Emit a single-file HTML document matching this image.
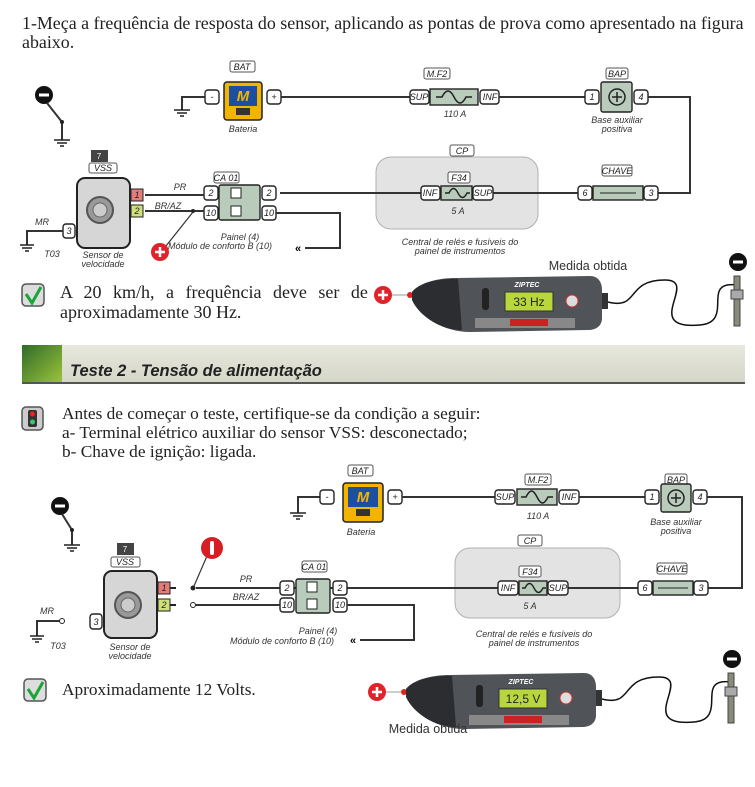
<!DOCTYPE html>
<html><head><meta charset="utf-8">
<style>
html,body{margin:0;padding:0;background:#fff;}
body{width:755px;height:787px;position:relative;overflow:hidden;font-family:"Liberation Serif",serif;color:#222;}
.t{position:absolute;font-size:16.5px;line-height:19px;white-space:nowrap;}
svg{position:absolute;left:0;top:0;}
</style></head><body>
<svg width="755" height="787" viewBox="0 0 755 787" font-family="Liberation Sans, sans-serif">
<defs>
<linearGradient id="gr" x1="0" y1="0" x2="1" y2="1"><stop offset="0" stop-color="#2f6b2a"/><stop offset="1" stop-color="#9cc43a"/></linearGradient>
<linearGradient id="hb" x1="0" y1="0" x2="0" y2="1"><stop offset="0" stop-color="#e8e8de"/><stop offset="1" stop-color="#d4d6c6"/></linearGradient>
</defs>
<style>
.w{stroke:#333;stroke-width:2;fill:none}
.p{fill:#fff;stroke:#222;stroke-width:1.4}
.b{fill:#b9ccbc;stroke:#222;stroke-width:1.4}
.l{font-size:9px;font-style:italic;text-anchor:middle;fill:#222}
.c{font-size:9px;font-style:italic;text-anchor:middle;fill:#333}
.lb{fill:#fff;stroke:#555;stroke-width:1}
</style>

<!-- ===================== DIAGRAM 1 ===================== -->
<circle cx="44" cy="95" r="9" fill="#111"/><rect x="39" y="93.5" width="10" height="3" fill="#fff"/>
<path class="w" d="M47 103 L62 122 L62 140" stroke-width="1.5"/><circle cx="62" cy="122" r="2" fill="#222"/>
<path d="M54 140h16M57 143h10M60 146h4" stroke="#222" stroke-width="1.5"/>

<rect class="lb" x="230" y="61" width="25" height="11" rx="2"/><text class="l" x="242" y="70">BAT</text>
<path class="w" d="M205 97 H182 V110"/><path d="M174 110h16M177 113h10M180 116h4" stroke="#222" stroke-width="1.5"/>
<rect class="p" x="205" y="90" width="14" height="14" rx="3"/><text class="l" x="212" y="100">-</text>
<rect x="224" y="82" width="38" height="38" rx="3" fill="#f3b400" stroke="#222" stroke-width="1.5"/>
<rect x="229" y="86" width="28" height="20" fill="#1d4fa0"/><text x="243" y="101" font-size="15" font-weight="bold" font-style="italic" fill="#f3b400" text-anchor="middle">M</text>
<rect x="236" y="108" width="14" height="7" fill="#333"/>
<rect class="p" x="267" y="90" width="14" height="14" rx="3"/><text class="l" x="274" y="100">+</text>
<text class="c" x="243" y="132">Bateria</text>
<path class="w" d="M281 97 H410"/>
<rect class="lb" x="424" y="68" width="26" height="11" rx="2"/><text class="l" x="437" y="77">M.F2</text>
<rect class="p" x="410" y="90" width="19" height="14" rx="3"/><text class="l" x="419" y="100">SUP</text>
<rect class="b" x="430" y="89" width="48" height="16"/><path d="M436 97 h6 c4 -8 8 -8 12 0 c4 8 8 8 12 0 h6" stroke="#222" stroke-width="1.5" fill="none"/>
<rect class="p" x="480" y="90" width="19" height="14" rx="3"/><text class="l" x="490" y="100">INF</text>
<text class="c" x="455" y="117">110 A</text>
<path class="w" d="M499 97 H585"/>
<rect class="lb" x="606" y="68" width="22" height="11" rx="2"/><text class="l" x="617" y="77">BAP</text>
<rect class="p" x="585" y="90" width="14" height="14" rx="3"/><text class="l" x="592" y="100">1</text>
<rect class="b" x="601" y="82" width="31" height="30" rx="2"/><circle cx="617" cy="97" r="8" fill="none" stroke="#222" stroke-width="1.5"/><path d="M612 97h10M617 92v10" stroke="#222" stroke-width="1.5"/>
<rect class="p" x="634" y="90" width="14" height="14" rx="3"/><text class="l" x="641" y="100">4</text>
<text class="c" x="617" y="123">Base auxiliar</text><text class="c" x="617" y="132">positiva</text>
<path class="w" d="M648 97 H690 V193 H657"/>
<rect x="376" y="157" width="162" height="72" rx="15" fill="#e3e3e3" stroke="#b0b0b0"/>
<rect class="lb" x="450" y="145" width="24" height="11" rx="2"/><text class="l" x="462" y="154">CP</text>
<path class="w" d="M280 193 H578"/>
<rect class="lb" x="448" y="172" width="22" height="11" rx="2"/><text class="l" x="459" y="181">F34</text>
<rect class="p" x="421" y="186" width="19" height="14" rx="3"/><text class="l" x="430" y="196">INF</text>
<rect class="b" x="441" y="186" width="31" height="14"/><path d="M445 193 h4 c3 -6 6 -6 9 0 c3 6 6 6 9 0 h3" stroke="#222" stroke-width="1.4" fill="none"/>
<rect class="p" x="473" y="186" width="20" height="14" rx="3"/><text class="l" x="483" y="196">SUP</text>
<text class="c" x="458" y="214">5 A</text>
<text class="c" x="460" y="245">Central de relés e fusíveis do</text><text class="c" x="460" y="254">painel de instrumentos</text>
<rect class="lb" x="602" y="165" width="30" height="11" rx="2"/><text class="l" x="617" y="174">CHAVE</text>
<rect class="p" x="578" y="186" width="14" height="14" rx="3"/><text class="l" x="585" y="196">6</text>
<rect class="b" x="593" y="186" width="50" height="14"/><path d="M600 193h36" stroke="#222"/>
<rect class="p" x="644" y="186" width="14" height="14" rx="3"/><text class="l" x="651" y="196">3</text>
<rect class="lb" x="214" y="172" width="25" height="11" rx="2"/><text class="l" x="226" y="181">CA 01</text>
<rect class="b" x="219" y="185" width="41" height="35" rx="2"/>
<rect x="231" y="188" width="10" height="10" fill="#fff" stroke="#222"/><rect x="231" y="206" width="10" height="10" fill="#fff" stroke="#222"/>
<rect class="p" x="204" y="186" width="14" height="14" rx="3"/><text class="l" x="211" y="196">2</text>
<rect class="p" x="204" y="206" width="14" height="14" rx="3"/><text class="l" x="211" y="216">10</text>
<rect class="p" x="262" y="186" width="14" height="14" rx="3"/><text class="l" x="269" y="196">2</text>
<rect class="p" x="262" y="206" width="14" height="14" rx="3"/><text class="l" x="269" y="216">10</text>
<path class="w" d="M276 213 H340 V248 H305"/><text x="295" y="252" font-size="11" font-weight="bold">«</text>
<text class="c" x="240" y="240">Painel (4)</text><text class="c" x="220" y="249">Módulo de conforto B (10)</text>
<path class="w" d="M145 195 H204 M145 211 H204"/>
<text class="c" x="180" y="190" font-size="10">PR</text><text class="c" x="168" y="209" font-size="10">BR/AZ</text>
<rect x="91" y="150" width="17" height="12" fill="#444"/><text x="99" y="159" font-size="8" fill="#fff" text-anchor="middle">7</text>
<rect class="lb" x="89" y="163" width="28" height="10" rx="2"/><text class="l" x="103" y="171">VSS</text>
<rect x="77" y="178" width="53" height="70" rx="8" fill="#d6d6d6" stroke="#222" stroke-width="2"/>
<circle cx="100" cy="210" r="13" fill="#999" stroke="#555" stroke-width="2"/><circle cx="100" cy="210" r="7" fill="#ccc" stroke="#666"/>
<rect x="131" y="189" width="12" height="12" fill="#e57c7c" stroke="#222"/><text class="l" x="137" y="198">1</text>
<rect x="131" y="205" width="12" height="12" fill="#cfe07a" stroke="#222"/><text class="l" x="137" y="214">2</text>
<rect class="p" x="63" y="224" width="12" height="14" rx="3"/><text class="l" x="69" y="234">3</text>
<path class="w" d="M63 231 H27 V245" stroke-width="1.5"/><path d="M20 245h14M22 248h10M25 251h4" stroke="#222" stroke-width="1.5"/>
<text class="c" x="42" y="225" font-size="10">MR</text><text class="c" x="52" y="257">T03</text>
<text class="c" x="103" y="258">Sensor de</text><text class="c" x="103" y="267">velocidade</text>
<path d="M166 246 L193 212" stroke="#333" stroke-width="1.2"/><circle cx="193" cy="211" r="2" fill="#222"/>
<circle cx="160" cy="252" r="9" fill="#e0232a"/><path d="M155 252h10M160 247v10" stroke="#fff" stroke-width="2.5"/>

<rect x="22" y="284" width="22" height="22" rx="4" fill="#ddd" stroke="#555" stroke-width="1.5"/><path d="M26 294 L32 303 L41 287" stroke="#1aa53a" stroke-width="3" fill="none"/>
<text x="588" y="270" font-size="12.5" text-anchor="middle" fill="#333">Medida obtida</text>

<g>
<circle cx="383" cy="295" r="9" fill="#e0232a"/><path d="M378 295h10M383 290v10" stroke="#fff" stroke-width="2.5"/>
<path d="M392 295 H408" stroke="#999"/><circle cx="410" cy="295" r="3" fill="#d22"/>
<path d="M412 292 C420 282 440 278 455 278 L590 276 C598 276 602 282 602 290 L602 318 C602 326 596 330 588 330 L470 332 C445 332 420 318 412 300 Z" fill="#505357"/>
<path d="M412 292 C420 282 440 278 458 279 L462 330 C440 330 420 316 412 300 Z" fill="#2c2d30"/>
<rect x="482" y="288" width="7" height="22" rx="3" fill="#222"/>
<rect x="505" y="292" width="48" height="19" fill="#b9d63c" stroke="#333"/>
<text x="529" y="306" font-size="12" text-anchor="middle" fill="#222">33 Hz</text>
<text x="527" y="287" font-size="7" font-weight="bold" font-style="italic" fill="#fff" text-anchor="middle">ZIPTEC</text>
<circle cx="572" cy="301" r="6" fill="#ddd" stroke="#c33"/>
<rect x="475" y="318" width="100" height="10" fill="#888"/><rect x="510" y="319" width="38" height="7" fill="#c22"/>
<rect x="602" y="293" width="6" height="16" fill="#333"/>
<path d="M608 302 C640 310 625 280 665 280 C700 280 640 330 700 325 C735 322 700 280 737 285" stroke="#111" stroke-width="1.5" fill="none"/>
<rect x="734" y="276" width="6" height="50" fill="#8a8a7a" stroke="#444"/><rect x="731" y="290" width="12" height="9" fill="#aaa" stroke="#444"/>
<circle cx="738" cy="262" r="9" fill="#111"/><rect x="733" y="260.5" width="10" height="3" fill="#fff"/>
</g>

<rect x="22" y="345" width="723" height="38" fill="url(#hb)"/>
<rect x="22" y="345" width="40" height="38" fill="url(#gr)"/>
<rect x="22" y="382" width="723" height="2" fill="#555"/>
<text x="70" y="376" font-size="16.5" font-weight="bold" font-style="italic" fill="#222">Teste 2 - Tensão de alimentação</text>
<rect x="22" y="407" width="21" height="23" rx="4" fill="#ccc" stroke="#555" stroke-width="1.5"/><rect x="28" y="410" width="9" height="17" rx="2" fill="#333"/>
<circle cx="32.5" cy="414" r="2.5" fill="#e22"/><circle cx="32.5" cy="422" r="2.5" fill="#3c6"/>

<!-- ===================== DIAGRAM 2 ===================== -->
<circle cx="60" cy="506" r="9" fill="#111"/><rect x="55" y="504.5" width="10" height="3" fill="#fff"/>
<path class="w" d="M62 514 L72 530 L72 545" stroke-width="1.5"/><circle cx="72" cy="530" r="2" fill="#222"/>
<path d="M64 545h16M67 548h10M70 551h4" stroke="#222" stroke-width="1.5"/>
<rect class="lb" x="348" y="465" width="25" height="11" rx="2"/><text class="l" x="360" y="474">BAT</text>
<path class="w" d="M320 497 H298 V513"/><path d="M290 513h16M293 516h10M296 519h4" stroke="#222" stroke-width="1.5"/>
<rect class="p" x="320" y="490" width="14" height="14" rx="3"/><text class="l" x="327" y="500">-</text>
<rect x="343" y="483" width="40" height="39" rx="3" fill="#f3b400" stroke="#222" stroke-width="1.5"/>
<rect x="348" y="487" width="30" height="20" fill="#1d4fa0"/><text x="363" y="502" font-size="15" font-weight="bold" font-style="italic" fill="#f3b400" text-anchor="middle">M</text>
<rect x="356" y="509" width="14" height="7" fill="#333"/>
<rect class="p" x="388" y="490" width="14" height="14" rx="3"/><text class="l" x="395" y="500">+</text>
<text class="c" x="361" y="535">Bateria</text>
<path class="w" d="M402 497 H495"/>
<rect class="lb" x="525" y="474" width="26" height="11" rx="2"/><text class="l" x="538" y="483">M.F2</text>
<rect class="p" x="495" y="490" width="20" height="14" rx="3"/><text class="l" x="505" y="500">SUP</text>
<rect class="b" x="517" y="489" width="40" height="16"/><path d="M521 497 h5 c4 -8 7 -8 11 0 c4 8 7 8 11 0 h5" stroke="#222" stroke-width="1.5" fill="none"/>
<rect class="p" x="559" y="490" width="20" height="14" rx="3"/><text class="l" x="569" y="500">INF</text>
<text class="c" x="538" y="519">110 A</text>
<path class="w" d="M579 497 H645"/>
<rect class="lb" x="665" y="474" width="22" height="11" rx="2"/><text class="l" x="676" y="483">BAP</text>
<rect class="p" x="645" y="490" width="14" height="14" rx="3"/><text class="l" x="652" y="500">1</text>
<rect class="b" x="661" y="484" width="30" height="28" rx="2"/><circle cx="676" cy="498" r="8" fill="none" stroke="#222" stroke-width="1.5"/><path d="M671 498h10M676 493v10" stroke="#222" stroke-width="1.5"/>
<rect class="p" x="693" y="490" width="14" height="14" rx="3"/><text class="l" x="700" y="500">4</text>
<text class="c" x="676" y="525">Base auxiliar</text><text class="c" x="676" y="534">positiva</text>
<path class="w" d="M707 497 H742 V588 H707"/>
<rect x="455" y="548" width="165" height="70" rx="15" fill="#e3e3e3" stroke="#b0b0b0"/>
<rect class="lb" x="518" y="535" width="24" height="11" rx="2"/><text class="l" x="530" y="544">CP</text>
<path class="w" d="M196 588 H645"/>
<rect class="lb" x="519" y="566" width="22" height="11" rx="2"/><text class="l" x="530" y="575">F34</text>
<rect class="p" x="498" y="581" width="20" height="14" rx="3"/><text class="l" x="508" y="591">INF</text>
<rect class="b" x="519" y="581" width="28" height="14"/><path d="M522 588 h3 c3 -6 6 -6 9 0 c3 6 6 6 9 0 h3" stroke="#222" stroke-width="1.4" fill="none"/>
<rect class="p" x="548" y="581" width="20" height="14" rx="3"/><text class="l" x="558" y="591">SUP</text>
<text class="c" x="530" y="609">5 A</text>
<text class="c" x="534" y="637">Central de relés e fusíveis do</text><text class="c" x="534" y="646">painel de instrumentos</text>
<rect class="lb" x="657" y="563" width="30" height="11" rx="2"/><text class="l" x="672" y="572">CHAVE</text>
<rect class="p" x="638" y="581" width="14" height="14" rx="3"/><text class="l" x="645" y="591">6</text>
<rect class="b" x="653" y="581" width="40" height="14"/><path d="M658 588h30" stroke="#222"/>
<rect class="p" x="694" y="581" width="14" height="14" rx="3"/><text class="l" x="701" y="591">3</text>
<rect class="lb" x="302" y="561" width="25" height="11" rx="2"/><text class="l" x="314" y="570">CA 01</text>
<rect class="b" x="296" y="579" width="34" height="34" rx="2"/>
<rect x="307" y="582" width="10" height="10" fill="#fff" stroke="#222"/><rect x="307" y="599" width="10" height="10" fill="#fff" stroke="#222"/>
<rect class="p" x="280" y="581" width="14" height="14" rx="3"/><text class="l" x="287" y="591">2</text>
<rect class="p" x="280" y="598" width="14" height="14" rx="3"/><text class="l" x="287" y="608">10</text>
<rect class="p" x="333" y="581" width="14" height="14" rx="3"/><text class="l" x="340" y="591">2</text>
<rect class="p" x="333" y="598" width="14" height="14" rx="3"/><text class="l" x="340" y="608">10</text>
<path class="w" d="M196 605 H280 M347 605 H414 V640 H360"/><text x="350" y="644" font-size="11" font-weight="bold">«</text>
<text class="c" x="318" y="634">Painel (4)</text><text class="c" x="282" y="644">Módulo de conforto B (10)</text>
<circle cx="193" cy="588" r="2.5" fill="#222"/><circle cx="193" cy="605" r="2.5" fill="#fff" stroke="#222"/>
<text class="c" x="246" y="582" font-size="10">PR</text><text class="c" x="246" y="600" font-size="10">BR/AZ</text>
<path d="M194 586 L207 556" stroke="#333" stroke-width="1.2"/>
<circle cx="212" cy="548" r="11" fill="#d81e25"/><rect x="210" y="541" width="4" height="14" rx="2" fill="#fff"/>
<rect x="117" y="543" width="17" height="12" fill="#444"/><text x="125" y="552" font-size="8" fill="#fff" text-anchor="middle">7</text>
<rect class="lb" x="111" y="557" width="29" height="10" rx="2"/><text class="l" x="125" y="565">VSS</text>
<rect x="104" y="571" width="53" height="67" rx="8" fill="#d6d6d6" stroke="#222" stroke-width="2"/>
<circle cx="128" cy="605" r="13" fill="#999" stroke="#555" stroke-width="2"/><circle cx="128" cy="605" r="7" fill="#ccc" stroke="#666"/>
<rect x="158" y="582" width="12" height="12" fill="#e57c7c" stroke="#222"/><text class="l" x="164" y="591">1</text>
<rect x="158" y="599" width="12" height="12" fill="#cfe07a" stroke="#222"/><text class="l" x="164" y="608">2</text>
<path d="M170 588h6M170 605h6" stroke="#222" stroke-width="2"/>
<rect class="p" x="90" y="614" width="12" height="15" rx="3"/><text class="l" x="96" y="625">3</text>
<path class="w" d="M60 621 H37 V636" stroke-width="1.5"/><circle cx="62" cy="621" r="2.5" fill="#fff" stroke="#222"/>
<path d="M30 636h14M32 639h10M35 642h4" stroke="#222" stroke-width="1.5"/>
<text class="c" x="47" y="614" font-size="10">MR</text><text class="c" x="58" y="649">T03</text>
<text class="c" x="130" y="650">Sensor de</text><text class="c" x="130" y="659">velocidade</text>

<rect x="24" y="679" width="22" height="22" rx="4" fill="#ddd" stroke="#555" stroke-width="1.5"/><path d="M28 689 L34 698 L43 682" stroke="#1aa53a" stroke-width="3" fill="none"/>
<g transform="translate(-6,397)">
<circle cx="383" cy="295" r="9" fill="#e0232a"/><path d="M378 295h10M383 290v10" stroke="#fff" stroke-width="2.5"/>
<path d="M392 295 H408" stroke="#999"/><circle cx="410" cy="295" r="3" fill="#d22"/>
<path d="M412 292 C420 282 440 278 455 278 L590 276 C598 276 602 282 602 290 L602 318 C602 326 596 330 588 330 L470 332 C445 332 420 318 412 300 Z" fill="#505357"/>
<path d="M412 292 C420 282 440 278 458 279 L462 330 C440 330 420 316 412 300 Z" fill="#2c2d30"/>
<rect x="482" y="288" width="7" height="22" rx="3" fill="#222"/>
<rect x="505" y="292" width="48" height="19" fill="#b9d63c" stroke="#333"/>
<text x="529" y="306" font-size="12" text-anchor="middle" fill="#222">12,5 V</text>
<text x="527" y="287" font-size="7" font-weight="bold" font-style="italic" fill="#fff" text-anchor="middle">ZIPTEC</text>
<circle cx="572" cy="301" r="6" fill="#ddd" stroke="#c33"/>
<rect x="475" y="318" width="100" height="10" fill="#888"/><rect x="510" y="319" width="38" height="7" fill="#c22"/>
<rect x="602" y="293" width="6" height="16" fill="#333"/>
<path d="M608 302 C640 310 625 280 665 280 C700 280 640 330 700 325 C735 322 700 280 737 285" stroke="#111" stroke-width="1.5" fill="none"/>
<rect x="734" y="276" width="6" height="50" fill="#8a8a7a" stroke="#444"/><rect x="731" y="290" width="12" height="9" fill="#aaa" stroke="#444"/>
<circle cx="738" cy="262" r="9" fill="#111"/><rect x="733" y="260.5" width="10" height="3" fill="#fff"/>
</g>
<text x="428" y="733" font-size="12.5" text-anchor="middle" fill="#333">Medida obtida</text>
</svg>

<div class="t" style="left:22px;top:14px;font-size:17.9px;">1-Meça a frequência de resposta do sensor, aplicando as pontas de prova como apresentado na figura</div>
<div class="t" style="left:22px;top:33px;font-size:17.9px;">abaixo.</div>
<div class="t" style="left:60px;top:283px;font-size:18px;word-spacing:7px;">A 20 km/h, a frequência deve ser de</div>
<div class="t" style="left:60px;top:303px;font-size:18px;">aproximadamente 30 Hz.</div>
<div class="t" style="left:62px;top:404px;font-size:17.3px;">Antes de começar o teste, certifique-se da condição a seguir:</div>
<div class="t" style="left:62px;top:423px;font-size:17.3px;">a- Terminal elétrico auxiliar do sensor VSS: desconectado;</div>
<div class="t" style="left:62px;top:442px;font-size:17.3px;">b- Chave de ignição: ligada.</div>
<div class="t" style="left:62px;top:680px;font-size:17.3px;">Aproximadamente 12 Volts.</div>
</body></html>
